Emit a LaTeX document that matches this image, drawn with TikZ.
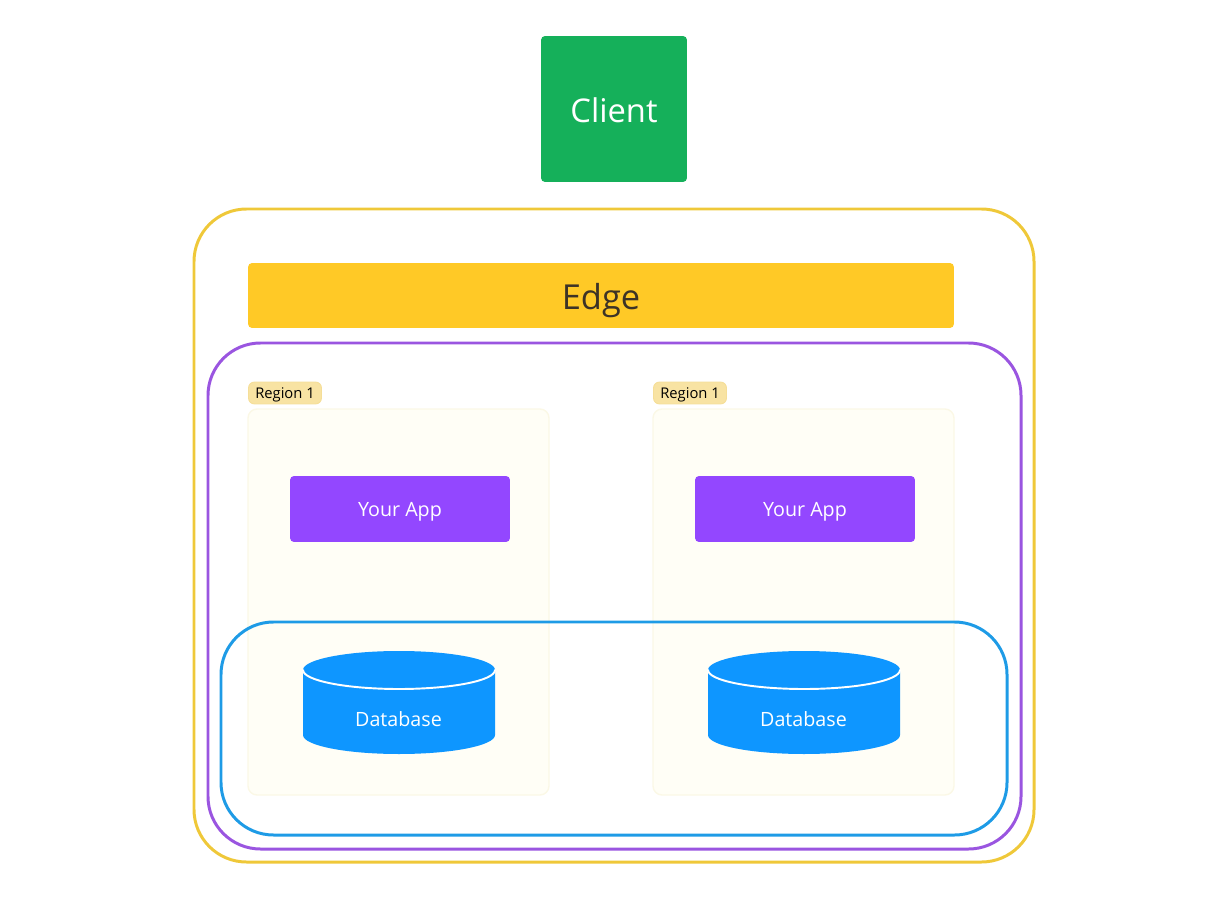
\documentclass[tikz,border=0pt]{standalone}
\usepackage{fontspec}
\setmainfont{Open Sans}
\usepackage{xcolor}
\usetikzlibrary{positioning}

\definecolor{clientgreen}{HTML}{15B05A}
\definecolor{edgeyellow}{HTML}{FFC926}
\definecolor{edgetext}{HTML}{3D3326}
\definecolor{ringyellow}{HTML}{EFC839}
\definecolor{ringpurple}{HTML}{9A55E0}
\definecolor{ringblue}{HTML}{1E9BE6}
\definecolor{apppurple}{HTML}{9347FF}
\definecolor{dbblue}{HTML}{0E96FF}
\definecolor{panelfill}{HTML}{FFFEF6}
\definecolor{paneldraw}{HTML}{FBF8E6}
\definecolor{tagfill}{HTML}{F8E3A3}
\definecolor{tagdraw}{HTML}{F5DE98}

\tikzset{
  ringbox/.style={line width=1.7pt,rounded corners=1.05cm},
  panelbox/.style={draw=paneldraw,fill=panelfill,line width=0.8pt,rounded corners=0.18cm},
  appbox/.style={fill=apppurple,text=white,rounded corners=0.08cm,minimum width=4.4cm,minimum height=1.32cm,inner sep=0pt,text height=8pt,text depth=0pt,font=\fontsize{11.2}{14}\selectfont},
  tagbox/.style={fill=tagfill,draw=tagdraw,line width=0.5pt,text=black,rounded corners=0.12cm,minimum width=1.46cm,minimum height=0.44cm,inner sep=0pt,text height=6pt,text depth=0pt,font=\fontsize{8.4}{10}\selectfont},
  dbbody/.style={fill=dbblue},
  dbrim/.style={draw=white,line width=1.1pt,line cap=round},
  dblabel/.style={text=white,inner sep=0pt,text height=8pt,text depth=0pt,font=\fontsize{11.2}{14}\selectfont},
}

\begin{document}
\begin{tikzpicture}[x=0.02cm,y=-0.02cm]
\useasboundingbox (0,0) rectangle (1226,918);

% Client and edge bars
\node[fill=clientgreen,text=white,rounded corners=0.08cm,minimum width=2.92cm,minimum height=2.92cm,inner sep=0pt,text height=15pt,text depth=0pt,font=\fontsize{18.6}{22}\selectfont] (client) at (614,109) {Client};
\node[fill=edgeyellow,text=edgetext,rounded corners=0.08cm,minimum width=14.12cm,minimum height=1.3cm,inner sep=0pt,text height=16pt,text depth=0pt,font=\fontsize{19.6}{22}\selectfont] (edge) at (601,295.5) {Edge};

% outer rings
\draw[ringbox,draw=ringyellow] (194,209) rectangle (1034,862);
\draw[ringbox,draw=ringpurple] (208,343) rectangle (1021,849);

% Region panels
\draw[panelbox] (248,409) rectangle (549,795);
\draw[panelbox] (653,409) rectangle (954,795);

\node[tagbox] (tag one) at (285,393) {Region 1};
\node[tagbox] (tag two) at (690,393) {Region 1};

\node[appbox] (app one) at (400,509) {Your App};
\node[appbox] (app two) at (805,509) {Your App};

% Database ring sits over the panels
\draw[ringbox,draw=ringblue] (221,622) rectangle (1007,835);

% Left database
\fill[dbbody] (303,670) -- (303,735) arc[start angle=180,end angle=0,x radius=96,y radius=19] -- (495,670) -- cycle;
\fill[dbbody] (399,670) ellipse[x radius=96,y radius=19];
\draw[dbrim] (303,670) arc[start angle=180,end angle=0,x radius=96,y radius=19];
\node[dblabel] (db one) at (398.5,719) {Database};

% Right database
\fill[dbbody] (708,670) -- (708,735) arc[start angle=180,end angle=0,x radius=96,y radius=19] -- (900,670) -- cycle;
\fill[dbbody] (804,670) ellipse[x radius=96,y radius=19];
\draw[dbrim] (708,670) arc[start angle=180,end angle=0,x radius=96,y radius=19];
\node[dblabel] (db two) at (803.5,719) {Database};

\end{tikzpicture}
\end{document}
